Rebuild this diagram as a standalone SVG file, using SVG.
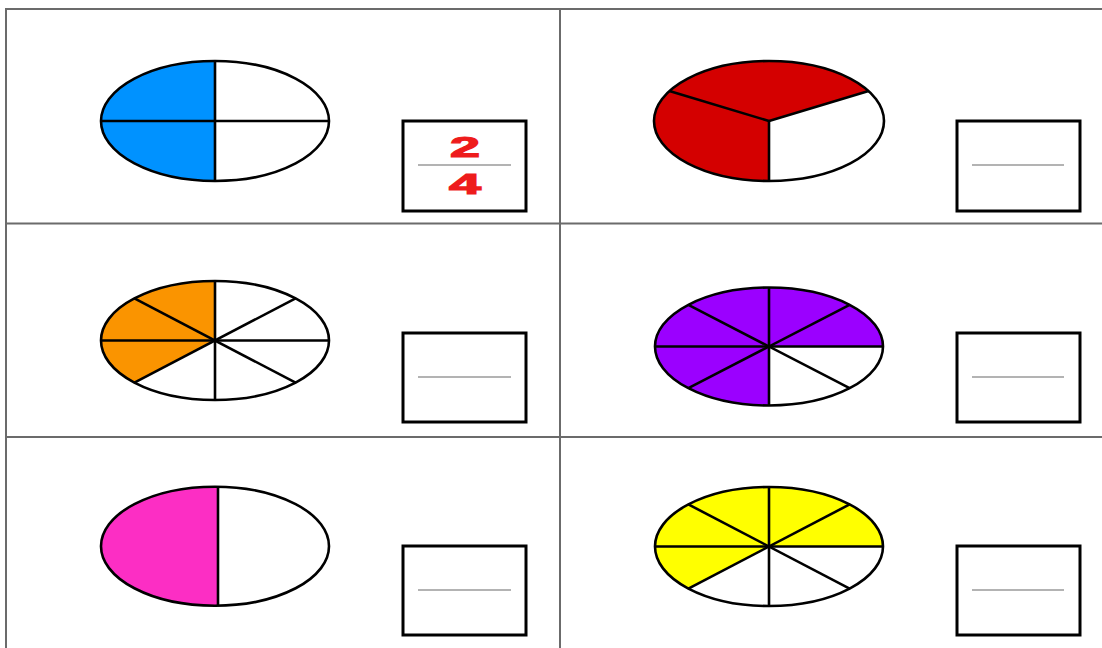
<svg xmlns="http://www.w3.org/2000/svg" width="1102" height="648" viewBox="0 0 1102 648">
<style>
.grid{stroke:#6b6b6b;stroke-width:2;fill:none}
.rim{fill:none;stroke:#000;stroke-width:2.6}
.spoke{stroke:#000;stroke-width:2.6;fill:none}
.box{fill:#fff;stroke:#000;stroke-width:3}
.bar{stroke:#9a9a9a;stroke-width:1.5}
.num{font-family:"Liberation Sans",Arial,sans-serif;font-weight:bold;font-size:29px;fill:#ee1c1c;stroke:#ee1c1c;stroke-width:1.2;text-anchor:middle}
</style>
<defs>
<clipPath id="leftHalf"><rect x="90" y="480" width="128" height="140"/></clipPath>
</defs>
<rect width="1102" height="648" fill="#fff"/>
<g id="grid">
<line class="grid" x1="5" y1="9" x2="1102" y2="9"/>
<line class="grid" x1="6" y1="9" x2="6" y2="648"/>
<line class="grid" x1="560" y1="9" x2="560" y2="648"/>
<line class="grid" x1="6" y1="223.5" x2="1102" y2="223.5"/>
<line class="grid" x1="6" y1="437" x2="1102" y2="437"/>
</g>
<g id="pie1">
<ellipse cx="215" cy="121" rx="114" ry="60" fill="#fff"/>
<path d="M215,121 L215,181 A114,60 0 0 1 215,61 Z" fill="#0092ff"/>
<ellipse class="rim" cx="215" cy="121" rx="114" ry="60"/>
<line class="spoke" x1="215" y1="61" x2="215" y2="181"/>
<line class="spoke" x1="101" y1="121" x2="329" y2="121"/>
</g>
<g id="box1">
<rect class="box" x="403" y="121" width="123" height="90"/>
<line class="bar" x1="418" y1="165" x2="511" y2="165"/>
<text class="num" x="465" y="157" textLength="30" lengthAdjust="spacingAndGlyphs">2</text>
<text class="num" x="465" y="194" textLength="32" lengthAdjust="spacingAndGlyphs">4</text>
</g>
<g id="pie2">
<ellipse cx="769" cy="121" rx="115" ry="60" fill="#fff"/>
<path d="M769,121 L769,181 A115,60 0 1 1 868.6,91 Z" fill="#d40000"/>
<ellipse class="rim" cx="769" cy="121" rx="115" ry="60"/>
<line class="spoke" x1="769" y1="121" x2="769" y2="181"/>
<line class="spoke" x1="769" y1="121" x2="669.4" y2="91"/>
<line class="spoke" x1="769" y1="121" x2="868.6" y2="91"/>
</g>
<g id="box2">
<rect class="box" x="957" y="121" width="123" height="90"/>
<line class="bar" x1="972" y1="165" x2="1064" y2="165"/>
</g>
<g id="pie3">
<ellipse cx="215" cy="340.5" rx="114" ry="59.5" fill="#fff"/>
<path d="M215,340.5 L134.4,382.6 A114,59.5 0 0 1 215,281 Z" fill="#fa9400"/>
<ellipse class="rim" cx="215" cy="340.5" rx="114" ry="59.5"/>
<line class="spoke" x1="101" y1="340.5" x2="329" y2="340.5"/>
<line class="spoke" x1="215" y1="281" x2="215" y2="400"/>
<line class="spoke" x1="134.4" y1="298.4" x2="295.6" y2="382.6"/>
<line class="spoke" x1="134.4" y1="382.6" x2="295.6" y2="298.4"/>
</g>
<g id="box3">
<rect class="box" x="403" y="333" width="123" height="89"/>
<line class="bar" x1="418" y1="377" x2="511" y2="377"/>
</g>
<g id="pie4">
<ellipse cx="769" cy="346.5" rx="114" ry="59" fill="#fff"/>
<path d="M769,346.5 L769,405.5 A114,59 0 1 1 883,346.5 Z" fill="#9b00ff"/>
<ellipse class="rim" cx="769" cy="346.5" rx="114" ry="59"/>
<line class="spoke" x1="655" y1="346.5" x2="883" y2="346.5"/>
<line class="spoke" x1="769" y1="287.5" x2="769" y2="405.5"/>
<line class="spoke" x1="688.4" y1="304.8" x2="849.6" y2="388.2"/>
<line class="spoke" x1="688.4" y1="388.2" x2="849.6" y2="304.8"/>
</g>
<g id="box4">
<rect class="box" x="957" y="333" width="123" height="89"/>
<line class="bar" x1="972" y1="377" x2="1064" y2="377"/>
</g>
<g id="pie5">
<ellipse cx="215" cy="546.2" rx="114" ry="59.5" fill="#fff"/>
<ellipse cx="215" cy="546.2" rx="114" ry="59.5" fill="#fc2ec4" clip-path="url(#leftHalf)"/>
<ellipse class="rim" cx="215" cy="546.2" rx="114" ry="59.5"/>
<line class="spoke" x1="218" y1="486.8" x2="218" y2="605.6"/>
</g>
<g id="box5">
<rect class="box" x="403" y="546" width="123" height="89"/>
<line class="bar" x1="418" y1="590" x2="511" y2="590"/>
</g>
<g id="pie6">
<ellipse cx="769" cy="546.5" rx="114" ry="59.5" fill="#fff"/>
<path d="M769,546.5 L688.4,588.6 A114,59.5 0 1 1 883,546.5 Z" fill="#ffff00"/>
<ellipse class="rim" cx="769" cy="546.5" rx="114" ry="59.5"/>
<line class="spoke" x1="655" y1="546.5" x2="883" y2="546.5"/>
<line class="spoke" x1="769" y1="487" x2="769" y2="606"/>
<line class="spoke" x1="688.4" y1="504.4" x2="849.6" y2="588.6"/>
<line class="spoke" x1="688.4" y1="588.6" x2="849.6" y2="504.4"/>
</g>
<g id="box6">
<rect class="box" x="957" y="546" width="123" height="89"/>
<line class="bar" x1="972" y1="590" x2="1064" y2="590"/>
</g>
</svg>
